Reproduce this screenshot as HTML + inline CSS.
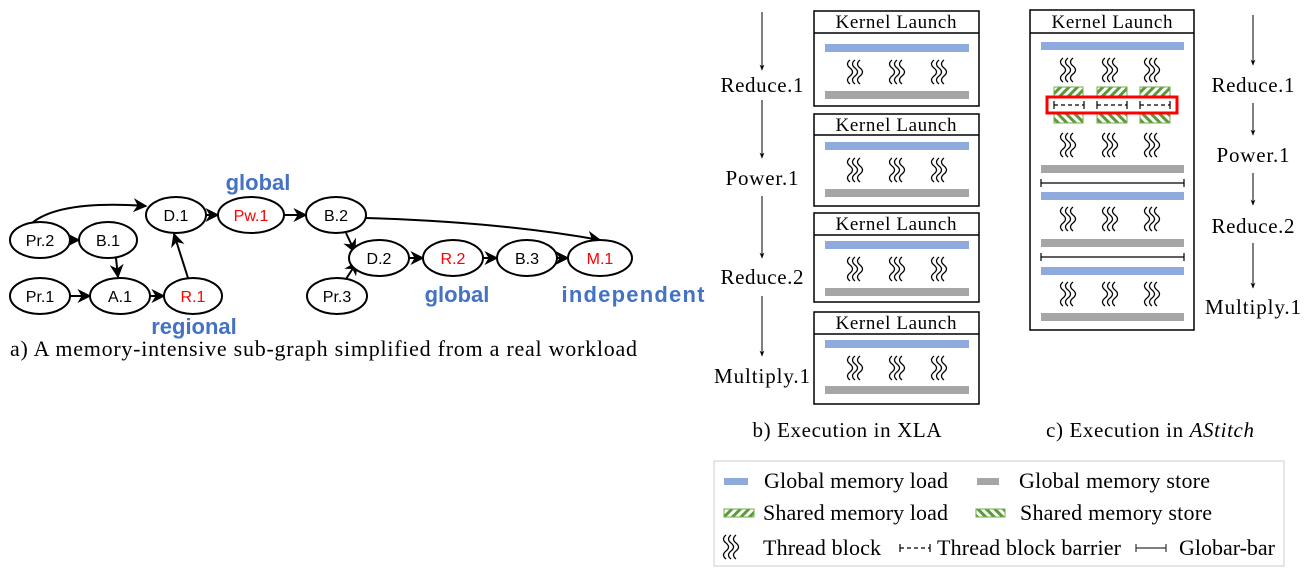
<!DOCTYPE html>
<html><head><meta charset="utf-8"><style>
html,body{margin:0;padding:0;background:#fff;}
svg{display:block;}
.n{font-family:"Liberation Sans",sans-serif;font-size:16px;}
.s{font-family:"Liberation Serif",serif;}
.bl{font-family:"Liberation Sans",sans-serif;font-weight:bold;fill:#4472c4;font-size:22px;}
</style></head><body>
<svg width="1314" height="574" viewBox="0 0 1314 574" xmlns="http://www.w3.org/2000/svg">
<defs>
<marker id="ah" viewBox="0 0 10 10" refX="9" refY="5" markerWidth="7" markerHeight="7" orient="auto"><path d="M0,0 L10,5 L0,10 L3,5 z" fill="#000"/></marker>
<marker id="as" viewBox="0 0 10 10" refX="9" refY="5" markerWidth="6" markerHeight="6" orient="auto"><path d="M0,1 L10,5 L0,9 L3,5 z" fill="#000"/></marker>
<g id="wv" fill="none" stroke="#000" stroke-width="1.3">
<path d="M4,0 q-5,4 0,8 q5,4 0,8 q-5,4 0,8"/>
<path d="M9,0 q-5,4 0,8 q5,4 0,8 q-5,4 0,8"/>
<path d="M14,0 q-5,4 0,8 q5,4 0,8 q-5,4 0,8"/>
</g>
<g id="w3"><use href="#wv" x="0"/><use href="#wv" x="42"/><use href="#wv" x="84"/></g>
<pattern id="sl" width="6" height="6" patternUnits="userSpaceOnUse" patternTransform="rotate(45)"><rect width="6" height="6" fill="#fff"/><rect width="3" height="6" fill="#5a9a3a"/></pattern>
<pattern id="sr" width="6" height="6" patternUnits="userSpaceOnUse" patternTransform="rotate(-45)"><rect width="6" height="6" fill="#fff"/><rect width="3" height="6" fill="#5a9a3a"/></pattern>
<g id="bar" stroke="#000" stroke-width="1.2"><line x1="0" y1="0" x2="30" y2="0" stroke-dasharray="4,3"/><line x1="0" y1="-4" x2="0" y2="4"/><line x1="30" y1="-4" x2="30" y2="4"/></g>
</defs>

<g fill="none" stroke="#000" stroke-width="2">
<path d="M32,223 Q60,200 146,206" marker-end="url(#ah)"/>
<line x1="70" y1="240" x2="79" y2="240" marker-end="url(#ah)"/>
<line x1="116" y1="258" x2="118" y2="277" marker-end="url(#ah)"/>
<line x1="70" y1="296" x2="90" y2="296" marker-end="url(#ah)"/>
<line x1="150" y1="296" x2="164" y2="296" marker-end="url(#ah)"/>
<line x1="188" y1="278" x2="174" y2="234" marker-end="url(#ah)"/>
<line x1="206" y1="215" x2="218" y2="215" marker-end="url(#ah)"/>
<line x1="284" y1="215" x2="306" y2="215" marker-end="url(#ah)"/>
<path d="M366,218 Q500,222 600,240" marker-end="url(#ah)"/>
<line x1="346" y1="233" x2="355" y2="252" marker-end="url(#ah)"/>
<line x1="346" y1="279" x2="357" y2="262" marker-end="url(#ah)"/>
<line x1="409" y1="258" x2="423" y2="258" marker-end="url(#ah)"/>
<line x1="483" y1="258" x2="497" y2="258" marker-end="url(#ah)"/>
<line x1="557" y1="258" x2="568" y2="258" marker-end="url(#ah)"/>
</g>
<g fill="#fff" stroke="#000" stroke-width="2">
<ellipse cx="40" cy="240" rx="30" ry="18"/><ellipse cx="108" cy="240" rx="29" ry="18"/>
<ellipse cx="176" cy="215" rx="30" ry="18"/><ellipse cx="251" cy="215" rx="33" ry="18"/>
<ellipse cx="336" cy="215" rx="30" ry="18"/><ellipse cx="40" cy="296" rx="30" ry="18"/>
<ellipse cx="120" cy="296" rx="30" ry="18"/><ellipse cx="193" cy="296" rx="29" ry="18"/>
<ellipse cx="337" cy="296" rx="30" ry="18"/><ellipse cx="379" cy="258" rx="30" ry="18"/>
<ellipse cx="453" cy="258" rx="30" ry="18"/><ellipse cx="527" cy="258" rx="30" ry="18"/>
<ellipse cx="600" cy="258" rx="32" ry="18"/>
</g>
<g class="n" text-anchor="middle">
<text x="40" y="246">Pr.2</text><text x="108" y="246">B.1</text><text x="176" y="221">D.1</text>
<text x="251" y="221" fill="#f00">Pw.1</text><text x="336" y="221">B.2</text><text x="40" y="302">Pr.1</text>
<text x="120" y="302">A.1</text><text x="193" y="302" fill="#f00">R.1</text><text x="337" y="302">Pr.3</text>
<text x="379" y="264">D.2</text><text x="453" y="264" fill="#f00">R.2</text><text x="527" y="264">B.3</text>
<text x="600" y="264" fill="#f00">M.1</text>
</g>
<g class="bl" text-anchor="middle">
<text x="258" y="190">global</text><text x="194" y="334">regional</text>
<text x="457" y="302">global</text><text x="633" y="302" textLength="143">independent</text>
</g>
<text x="10" y="356" class="s" font-size="22" textLength="627">a) A memory-intensive sub-graph simplified from a real workload</text>

<g stroke="#000" stroke-width="1" marker-end="url(#as)">
<line x1="762" y1="12" x2="762" y2="70"/><line x1="762" y1="100" x2="762" y2="158"/>
<line x1="762" y1="196" x2="762" y2="258"/><line x1="762" y1="296" x2="762" y2="356"/>
</g>
<g class="s" font-size="21" text-anchor="middle">
<text x="762" y="92" textLength="83">Reduce.1</text><text x="762" y="185" textLength="73">Power.1</text>
<text x="762" y="284" textLength="83">Reduce.2</text><text x="762" y="383" textLength="96">Multiply.1</text>
<text x="847" y="437" textLength="189">b) Execution in XLA</text>
<text x="1150" y="437" textLength="208">c) Execution in <tspan font-style="italic">AStitch</tspan></text>
</g>
<g fill="none" stroke="#000" stroke-width="1.5">
<rect x="814" y="11" width="165" height="95"/><line x1="814" y1="33" x2="979" y2="33"/>
<rect x="814" y="114" width="165" height="92"/><line x1="814" y1="135" x2="979" y2="135"/>
<rect x="814" y="213" width="165" height="89"/><line x1="814" y1="235" x2="979" y2="235"/>
<rect x="814" y="312" width="165" height="92"/><line x1="814" y1="334" x2="979" y2="334"/>
</g>
<g class="s" font-size="19" text-anchor="middle">
<text x="896" y="28" textLength="121">Kernel Launch</text><text x="896" y="131" textLength="121">Kernel Launch</text>
<text x="896" y="230" textLength="121">Kernel Launch</text><text x="896" y="329" textLength="121">Kernel Launch</text>
</g>
<g fill="#8faadc">
<rect x="825" y="44" width="144" height="8"/><rect x="825" y="142" width="144" height="8"/>
<rect x="825" y="241" width="144" height="8"/><rect x="825" y="340" width="144" height="8"/>
</g>
<g fill="#a6a6a6">
<rect x="825" y="91" width="144" height="8"/><rect x="825" y="189" width="144" height="8"/>
<rect x="825" y="288" width="144" height="8"/><rect x="825" y="386" width="144" height="8"/>
</g>
<use href="#w3" x="846" y="60"/><use href="#w3" x="846" y="158"/>
<use href="#w3" x="846" y="257"/><use href="#w3" x="846" y="356"/>

<rect x="1030" y="10" width="164" height="320" fill="none" stroke="#000" stroke-width="1.5"/>
<line x1="1030" y1="33" x2="1194" y2="33" stroke="#000" stroke-width="1.5"/>
<text x="1112" y="28" class="s" font-size="19" text-anchor="middle" textLength="121">Kernel Launch</text>
<g fill="#8faadc"><rect x="1041" y="42" width="143" height="8"/><rect x="1041" y="192" width="143" height="8"/><rect x="1041" y="267" width="143" height="8"/></g>
<g fill="#a6a6a6"><rect x="1041" y="165" width="143" height="8"/><rect x="1041" y="239" width="143" height="8"/><rect x="1041" y="313" width="143" height="8"/></g>
<use href="#w3" x="1059" y="58"/><use href="#w3" x="1059" y="133"/><use href="#w3" x="1059" y="207"/><use href="#w3" x="1059" y="282"/>
<g stroke="#70ad47" stroke-width="1">
<rect x="1054" y="87" width="29" height="9" fill="url(#sl)"/><rect x="1097" y="87" width="30" height="9" fill="url(#sl)"/><rect x="1140" y="87" width="30" height="9" fill="url(#sl)"/>
<rect x="1054" y="114" width="29" height="9" fill="url(#sr)"/><rect x="1097" y="114" width="30" height="9" fill="url(#sr)"/><rect x="1140" y="114" width="30" height="9" fill="url(#sr)"/>
</g>
<use href="#bar" x="1054" y="105"/><use href="#bar" x="1097" y="105"/><use href="#bar" x="1140" y="105"/>
<rect x="1047" y="97" width="130" height="16" fill="none" stroke="#f00" stroke-width="3"/>
<g stroke="#000" stroke-width="1.2">
<line x1="1041" y1="183" x2="1184" y2="183"/><line x1="1041" y1="179" x2="1041" y2="187"/><line x1="1184" y1="179" x2="1184" y2="187"/>
<line x1="1041" y1="257" x2="1184" y2="257"/><line x1="1041" y1="253" x2="1041" y2="261"/><line x1="1184" y1="253" x2="1184" y2="261"/>
</g>
<g stroke="#000" stroke-width="1" marker-end="url(#as)">
<line x1="1253" y1="15" x2="1253" y2="65"/><line x1="1253" y1="103" x2="1253" y2="135"/>
<line x1="1253" y1="173" x2="1253" y2="205"/><line x1="1253" y1="243" x2="1253" y2="288"/>
</g>
<g class="s" font-size="21" text-anchor="middle">
<text x="1253" y="92" textLength="83">Reduce.1</text><text x="1253" y="162" textLength="73">Power.1</text>
<text x="1253" y="233" textLength="83">Reduce.2</text><text x="1253" y="314" textLength="96">Multiply.1</text>
</g>

<rect x="714" y="461" width="570" height="105" fill="none" stroke="#ccc" stroke-width="1"/>
<rect x="724" y="478" width="24" height="7" fill="#8faadc"/>
<rect x="977" y="478" width="22" height="7" fill="#a6a6a6"/>
<rect x="724" y="509" width="30" height="8" fill="url(#sl)" stroke="#70ad47"/>
<rect x="976" y="509" width="29" height="8" fill="url(#sr)" stroke="#70ad47"/>
<use href="#wv" x="722" y="535"/>
<use href="#bar" x="900" y="548"/>
<g stroke="#333" stroke-width="1.2"><line x1="1136" y1="548" x2="1166" y2="548"/><line x1="1136" y1="544" x2="1136" y2="552"/><line x1="1166" y1="544" x2="1166" y2="552"/></g>
<g class="s" font-size="22">
<text x="764" y="488" textLength="184">Global memory load</text><text x="1019" y="488" textLength="191">Global memory store</text>
<text x="763" y="520" textLength="185">Shared memory load</text><text x="1020" y="520" textLength="192">Shared memory store</text>
<text x="763" y="555" textLength="118">Thread block</text><text x="937" y="555" textLength="184">Thread block barrier</text><text x="1179" y="555" textLength="96">Globar-bar</text>
</g>
</svg>
</body></html>
